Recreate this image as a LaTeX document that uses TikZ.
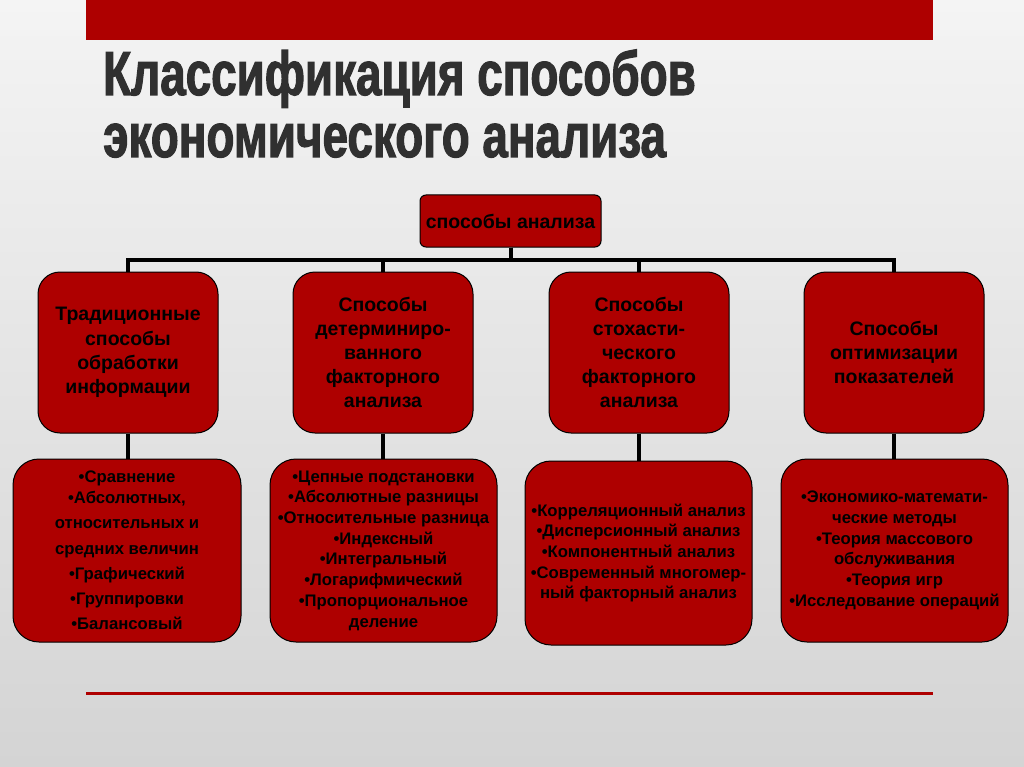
\documentclass[tikz,border=0pt]{standalone}
\usepackage{fontspec}
\setmainfont{Liberation Sans}
\newfontfamily\titlefont{Liberation Sans}[FakeStretch=0.79,FakeBold=1.8]
\definecolor{bandred}{RGB}{174,0,0}
\definecolor{boxred}{RGB}{174,0,0}
\definecolor{titlegray}{RGB}{48,48,48}
\definecolor{bglight}{RGB}{244,244,244}
\definecolor{bgdark}{RGB}{212,212,212}
\tikzset{
  basebox/.style={draw=black, line width=1pt, fill=boxred, text=black, align=center, inner sep=0pt},
  topbox/.style={basebox, rounded corners=6pt, minimum width=181pt, minimum height=52pt,
    font=\bfseries\fontsize{19.5}{23}\selectfont},
  midbox/.style={basebox, rounded corners=22pt, minimum width=180pt, minimum height=161pt,
    font=\bfseries\fontsize{19.5}{24.2}\selectfont},
  lowbox/.style={basebox, rounded corners=26pt, minimum width=227pt, minimum height=183pt,
    font=\bfseries\fontsize{16.7}{20.7}\selectfont},
  conn/.style={draw=black, line width=4pt},
  titletext/.style={anchor=base west, inner sep=0pt, text=titlegray,
    font=\titlefont\bfseries\fontsize{58}{62}\selectfont}
}
\begin{document}
\begin{tikzpicture}[x=1pt,y=-1pt]
\useasboundingbox (0,0) rectangle (1024,767);
\shade[top color=bglight, bottom color=bgdark] (0,0) rectangle (1024,767);
% top band and bottom rule
\fill[bandred] (86,0) rectangle (933,40);
\draw[bandred, line width=3pt] (86,693) -- (933,693);
% title
\node[titletext] (t1) at (103,95) {\scalebox{1}[1.07]{Классификация способов}};
\node[titletext] (t2) at (103,157) {\scalebox{1}[1.07]{экономического анализа}};
% root
\node[topbox] (root) at (510.5,221) {способы анализа};
% level 2
\node[midbox] (a) at (128,352.5) {Традиционные\\способы\\обработки\\информации};
\node[midbox] (b) at (383,352.5) {Способы\\детерминиро-\\ванного\\факторного\\анализа};
\node[midbox] (c) at (639,352.5) {Способы\\стохасти-\\ческого\\факторного\\анализа};
\node[midbox] (d) at (894,352.5) {Способы\\оптимизации\\показателей};
% level 3
\node[lowbox, minimum width=228pt] (la) at (127,550.5) {•Сравнение\\•Абсолютных,\\[4.5pt]относительных и\\[4.5pt]средних величин\\[4.5pt]•Графический\\[4.5pt]•Группировки\\[4.5pt]•Балансовый};
\node[lowbox] (lb) at (383.5,550.5) {•Цепные подстановки\\•Абсолютные разницы\\•Относительные разница\\•Индексный\\•Интегральный\\•Логарифмический\\•Пропорциональное\\деление};
\node[lowbox, minimum height=184pt] (lc) at (638.5,553) {•Корреляционный анализ\\•Дисперсионный анализ\\•Компонентный анализ\\•Современный многомер-\\ный факторный анализ};
\node[lowbox] (ld) at (894.5,550.5) {•Экономико-математи-\\ческие методы\\•Теория массового\\обслуживания\\•Теория игр\\•Исследование операций};
% connectors
\foreach \n in {a,b,c,d}{
  \draw[conn] (root.south) -- ++(0,12.5) -| (\n.north);
}
\draw[conn] (a.south) -- (a.south |- la.north);
\draw[conn] (b.south) -- (b.south |- lb.north);
\draw[conn] (c.south) -- (c.south |- lc.north);
\draw[conn] (d.south) -- (d.south |- ld.north);
\end{tikzpicture}
\end{document}
